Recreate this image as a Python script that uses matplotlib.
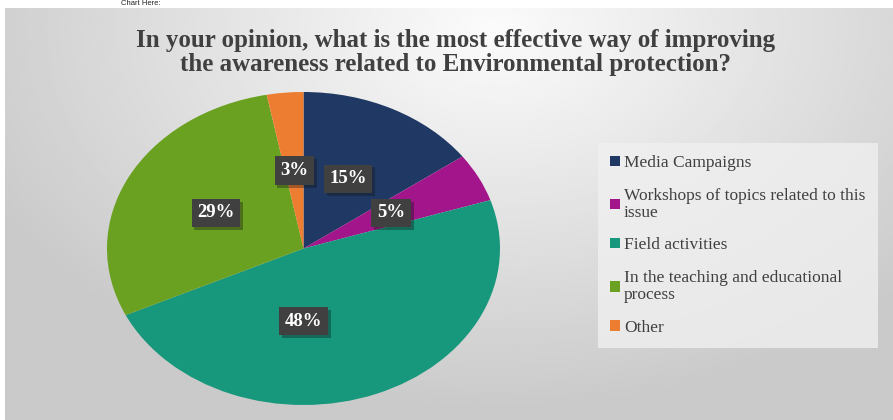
import matplotlib.pyplot as plt
import matplotlib.patheffects as pe
import numpy as np

# Data
categories = ['Media Campaigns',
              'Workshops of topics related to this\nissue',
              'Field activities',
              'In the teaching and educational\nprocess',
              'Other']
shares = [15, 5, 48, 29, 3]
colors = ['#1f3864', '#a3168b', '#17977c', '#6aa121', '#ed7d31']

title = ('In your opinion, what is the most effective way of improving\n'
         'the awareness related to Environmental protection?')

fig = plt.figure(figsize=(8.93, 4.2), dpi=100)
fig.patch.set_facecolor('white')

# Gradient background panel
bg = fig.add_axes([5 / 893, 0, 888 / 893, 412 / 420])
yy, xx = np.mgrid[0:1:200j, 0:1:400j]
dist = np.sqrt(((xx - 0.55) * 1.6) ** 2 + ((yy - 0.05) * 1.1) ** 2)
grad = np.clip(0.985 - 0.19 * dist, 0.79, 0.985)
bg.imshow(grad, cmap='gray', vmin=0, vmax=1, aspect='auto',
          extent=[0, 1, 0, 1], origin='upper')
bg.axis('off')

# Text from the page above the chart
fig.text(0.135, 0.992, 'Chart Here:', fontsize=5.5, color='#222222',
         ha='left', va='center', family='Liberation Sans')

# Title
fig.text(0.51, 0.875, title, ha='center', va='center', fontsize=18,
         fontweight='bold', color='#404040', family='Liberation Serif',
         linespacing=1.05)

# Pie (stretched like the original)
ax = fig.add_axes([107 / 893, 15 / 420, 393 / 893, 313 / 420])
wedges, texts, autotexts = ax.pie(
    shares, colors=colors, startangle=90, counterclock=False,
    autopct='%d%%', pctdistance=0.5,
    wedgeprops=dict(linewidth=0),
    textprops=dict(color='white', fontweight='bold', fontsize=13.5,
                   family='Liberation Serif'))
ax.set_aspect('auto')
ax.set_xlim(-1, 1)
ax.set_ylim(-1, 1)

# the big slice's label sits straight below the centre in the original
autotexts[2].set_x(0)

for t in autotexts:
    t.set_bbox(dict(boxstyle='square,pad=0.3', fc='#404040', ec='none'))
    t.get_bbox_patch().set_path_effects(
        [pe.SimplePatchShadow(offset=(2, -2), alpha=0.35), pe.Normal()])

# Legend
leg = fig.legend(wedges, categories, loc='upper left',
                 bbox_to_anchor=(598 / 893, 1 - 143 / 420),
                 frameon=True, fancybox=False,
                 prop=dict(family='Liberation Serif', size=12.5),
                 handlelength=0.55, handleheight=0.55, handletextpad=0.25,
                 labelspacing=0.95, borderpad=0.7, borderaxespad=0)
leg.get_frame().set_facecolor('#f0f0f0')
leg.get_frame().set_edgecolor('none')
leg.get_frame().set_alpha(0.8)
for txt in leg.get_texts():
    txt.set_color('#404040')
    txt.set_linespacing(1.1)

fig.savefig('out.png', dpi=100)
